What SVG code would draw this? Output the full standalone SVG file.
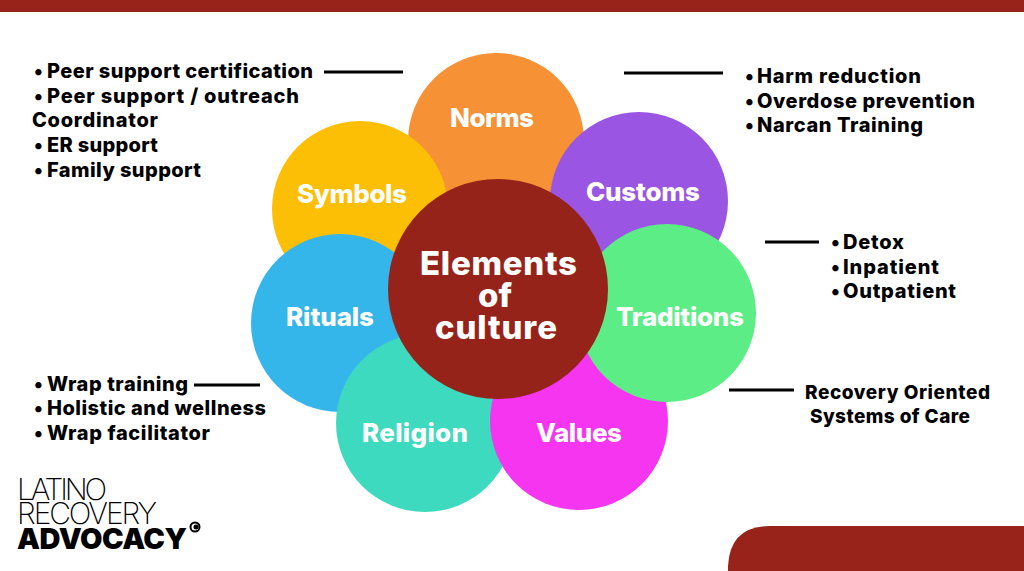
<svg xmlns="http://www.w3.org/2000/svg" width="1024" height="571" viewBox="0 0 1024 571">
<style>
.p{font-family:"Inter","DejaVu Sans",sans-serif;font-weight:800;fill:#fff;font-size:26px}
.c{font-size:33px}
.b{font-family:"Inter","DejaVu Sans",sans-serif;font-weight:800;fill:#000;font-size:20px}
.l{stroke:#000;stroke-width:3;fill:none}
.t{font-family:"Inter",sans-serif;font-weight:200;font-size:30px;fill:#000}
</style>
<rect width="1024" height="571" fill="#fff"/>
<rect width="1024" height="12" fill="#97231a"/>
<path d="M728 571V566Q730 526 770 526H1024V571Z" fill="#97231a"/>
<g id="norms"><circle cx="496" cy="141" r="88" fill="#f79135"/><text class="p" x="450" y="127" textLength="84">Norms</text></g>
<g id="symbols"><circle cx="360" cy="209" r="88" fill="#fcbf05"/><text class="p" x="297" y="203" textLength="110">Symbols</text></g>
<g id="customs"><circle cx="639" cy="201" r="89" fill="#9a55e2"/><text class="p" x="586" y="201" textLength="114">Customs</text></g>
<g id="rituals"><circle cx="340" cy="323" r="89" fill="#35b6ea"/><text class="p" x="286" y="326" textLength="88">Rituals</text></g>
<g id="religion"><circle cx="425" cy="423" r="89" fill="#3edac0"/><text class="p" x="362" y="442" textLength="106">Religion</text></g>
<g id="values"><circle cx="579" cy="421" r="89" fill="#f535ef"/><text class="p" x="536" y="442" textLength="86">Values</text></g>
<g id="traditions"><circle cx="667" cy="313" r="89" fill="#5ded87"/><text class="p" x="616" y="326" textLength="128">Traditions</text></g>
<g id="center"><circle cx="498" cy="289" r="110" fill="#96231a"/>
<text class="p c" x="420" y="275" textLength="157">Elements</text><text class="p c" x="478" y="307" textLength="34">of</text><text class="p c" x="435" y="339" textLength="122">culture</text></g>
<g id="connectors">
<path class="l" d="M324 72H403M624 73H723M765 242H819M194 385H260M729 390H794"/>
</g>
<g id="list-peer">
<text class="b" x="34" y="78">•</text><text class="b" x="47" y="78" textLength="266">Peer support certification</text>
<text class="b" x="34" y="103">•</text><text class="b" x="47" y="103" textLength="252">Peer support / outreach</text>
<text class="b" x="32" y="127" textLength="126">Coordinator</text>
<text class="b" x="34" y="152">•</text><text class="b" x="47" y="152" textLength="111">ER support</text>
<text class="b" x="34" y="177">•</text><text class="b" x="47" y="177" textLength="154">Family support</text>
</g>
<g id="list-harm">
<text class="b" x="745" y="83">•</text><text class="b" x="757" y="83" textLength="164">Harm reduction</text>
<text class="b" x="745" y="108">•</text><text class="b" x="757" y="108" textLength="218">Overdose prevention</text>
<text class="b" x="745" y="132">•</text><text class="b" x="757" y="132" textLength="166">Narcan Training</text>
</g>
<g id="list-detox">
<text class="b" x="831" y="249">•</text><text class="b" x="843" y="249" textLength="61">Detox</text>
<text class="b" x="831" y="274">•</text><text class="b" x="843" y="274" textLength="96">Inpatient</text>
<text class="b" x="831" y="298">•</text><text class="b" x="843" y="298" textLength="113">Outpatient</text>
</g>
<g id="list-ros">
<text class="b" style="font-size:19px" x="805" y="399" textLength="185">Recovery Oriented</text>
<text class="b" style="font-size:19px" x="810" y="423" textLength="160">Systems of Care</text>
</g>
<g id="list-wrap">
<text class="b" x="34" y="391">•</text><text class="b" x="47" y="391" textLength="141">Wrap training</text>
<text class="b" x="34" y="415">•</text><text class="b" x="47" y="415" textLength="219">Holistic and wellness</text>
<text class="b" x="34" y="440">•</text><text class="b" x="47" y="440" textLength="163">Wrap facilitator</text>
</g>
<g id="logo">
<text class="t" x="17" y="500" textLength="90">LATINO</text>
<text class="t" x="17" y="524" textLength="140">RECOVERY</text>
<text x="17" y="549" textLength="170" style="font-family:'Inter',sans-serif;font-weight:900;font-size:29px" fill="#000">ADVOCACY</text>
<circle cx="195" cy="527" r="4.5" fill="none" stroke="#000" stroke-width="2"/>
<circle cx="196" cy="527" r="2.5" fill="#000"/>
</g>
</svg>
